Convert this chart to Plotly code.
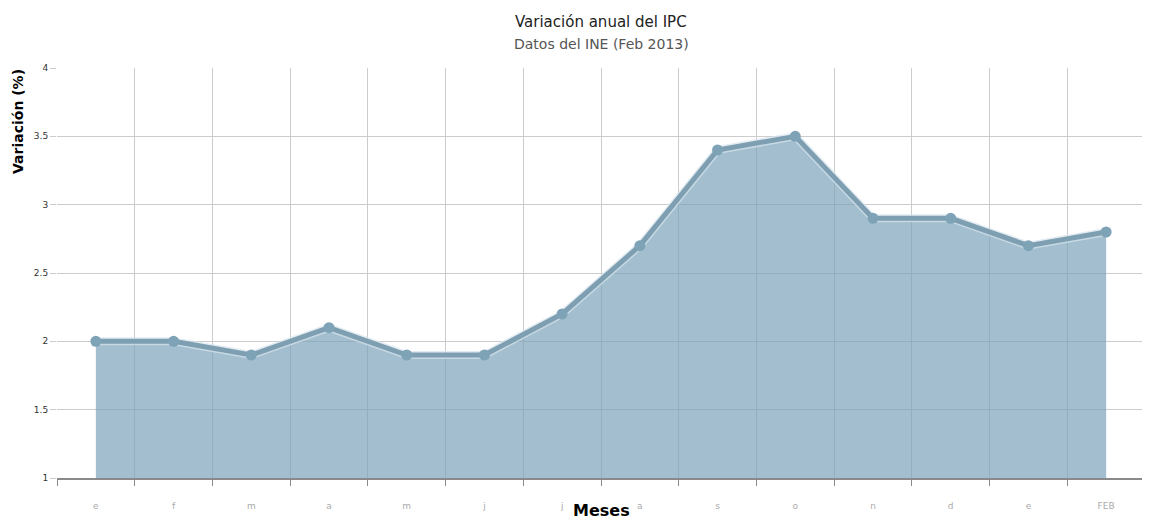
import plotly.graph_objects as go

meses = ["e", "f", "m", "a", "m", "j", "j", "a", "s", "o", "n", "d", "e", "FEB"]
variacion = [2.0, 2.0, 1.9, 2.1, 1.9, 1.9, 2.2, 2.7, 3.4, 3.5, 2.9, 2.9, 2.7, 2.8]
y_ticks = [1, 1.5, 2, 2.5, 3, 3.5, 4]

idx = list(range(len(meses)))
bounds = [i - 0.5 for i in range(len(meses) + 1)]

fig = go.Figure()
# soft glow under the line + area fill
fig.add_trace(go.Scatter(
    x=idx, y=variacion, mode="lines",
    line=dict(color="rgba(215,228,236,0.7)", width=8),
    fill="tozeroy", fillcolor="rgba(120,160,184,0.68)",
    hoverinfo="skip", showlegend=False,
))
fig.add_trace(go.Scatter(
    x=idx, y=variacion, mode="lines+markers",
    line=dict(color="#7d9fb1", width=5),
    marker=dict(color="#7fa3b6", size=11),
    showlegend=False,
))

fig.update_layout(
    width=1142, height=512,
    margin=dict(l=49, r=5, t=60, b=42),
    paper_bgcolor="white", plot_bgcolor="white",
    font=dict(family="DejaVu Sans", color="#333"),
    xaxis=dict(
        range=[-0.5, len(meses) - 0.5],
        tickmode="array", tickvals=idx, ticktext=meses,
        showgrid=False, ticks="",
        tickfont=dict(size=9, color="#aaaaaa"),
        ticklabelstandoff=18,
        showline=True, linecolor="#8a8a8a", linewidth=1.5,
        minor=dict(tickmode="array", tickvals=bounds, showgrid=True,
                   gridcolor="#cccccc", gridwidth=1,
                   ticks="outside", ticklen=6, tickcolor="#8a8a8a"),
        zeroline=False,
    ),
    yaxis=dict(
        range=[1, 4], tickmode="array", tickvals=y_ticks,
        ticktext=[f"{v:g}" for v in y_ticks],
        showgrid=True, gridcolor="#cccccc", gridwidth=1,
        ticks="outside", ticklen=6, tickcolor="#cccccc",
        tickfont=dict(size=9, color="#333"),
        zeroline=False, showline=False,
    ),
    annotations=[
        dict(text="Variación anual del IPC", xref="paper", yref="paper",
             x=0.5, y=(478 - 22) / 410, xanchor="center", yanchor="middle",
             showarrow=False, font=dict(size=15, color="#222")),
        dict(text="Datos del INE (Feb 2013)", xref="paper", yref="paper",
             x=0.5, y=(478 - 44) / 410, xanchor="center", yanchor="middle",
             showarrow=False, font=dict(size=14, color="#555")),
        dict(text="<b>Meses</b>", xref="paper", yref="paper",
             x=0.5, y=(478 - 510) / 410, xanchor="center", yanchor="middle",
             showarrow=False, font=dict(size=16, color="#000")),
        dict(text="<b>Variación (%)</b>", xref="paper", yref="paper",
             x=(18 - 57) / 1088, y=(478 - 122) / 410, xanchor="center", yanchor="middle",
             textangle=-90, showarrow=False, font=dict(size=14, color="#000")),
    ],
)

fig.write_html("out.html")
